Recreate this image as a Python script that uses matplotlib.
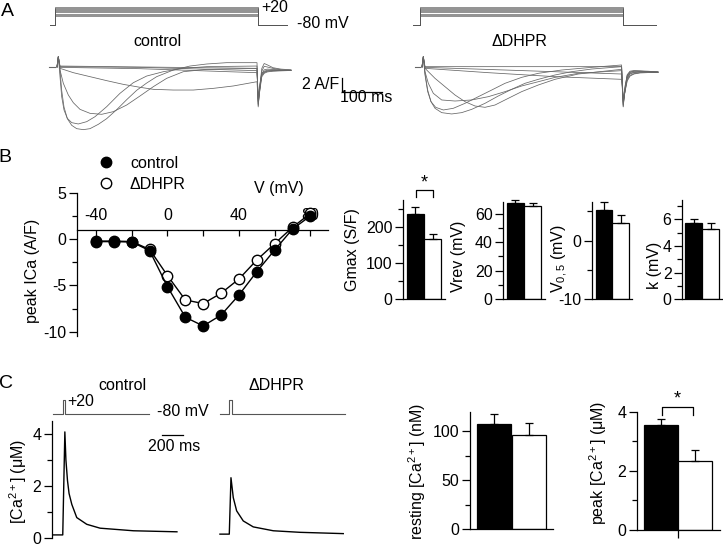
import matplotlib
matplotlib.use('Agg')
import matplotlib.pyplot as plt
from matplotlib.lines import Line2D
from matplotlib.ticker import FixedLocator

# ---------------------------------------------------------------- style
plt.rcParams['font.family'] = ['Liberation Sans', 'DejaVu Sans']
plt.rcParams['font.size'] = 11.5
plt.rcParams['axes.linewidth'] = 0.9
plt.rcParams['axes.unicode_minus'] = False
plt.rcParams['mathtext.fontset'] = 'custom'
plt.rcParams['mathtext.rm'] = 'Liberation Sans'
plt.rcParams['mathtext.it'] = 'Liberation Sans:italic'

# ---------------------------------------------------------------- data
# A: current traces (t in ms from pulse onset, I in A/F)
ctrl_t = [
    [0, 3.3, 7.5, 11.7, 17.5, 25.8, 36.7, 49.2, 65.8, 82.5, 103.3, 124.2, 149.2, 174.2, 199.2, 224.2, 249.2, 290.8, 332.5, 374.2, 424.2, 500],
    [0, 3.3, 7.5, 11.7, 17.5, 25.8, 36.7, 53.3, 74.2, 95, 124.2, 157.5, 190.8, 224.2, 265.8, 315.8, 374.2, 500],
    [0, 3.3, 7.5, 15.8, 28.3, 40.8, 57.5, 82.5, 111.7, 140.8, 174.2, 207.5, 240.8, 274.2, 315.8, 374.2, 500],
    [0, 3.3, 7.5, 40.8, 82.5, 124.2, 165.8, 207.5, 240.8, 290.8, 340.8, 390.8, 440.8, 500],
    [0, 3.3, 7.5, 207.5, 500],
    [0, 3.3, 7.5, 207.5, 500],
    [0, 3.3, 7.5, 500],
]
ctrl_i = [
    [0, 1.48, -0.43, -3.33, -5.71, -7.38, -8.33, -8.81, -8.95, -8.81, -8.19, -7.38, -6.10, -4.67, -3.33, -2.29, -1.38, -0.43, 0.14, 0.43, 0.62, 0.62],
    [0, 1.48, -1.38, -4.24, -6.14, -7.33, -7.95, -8.14, -7.81, -7.1, -5.67, -3.76, -2.24, -1.29, -0.67, -0.19, 0.05, 0.14],
    [0, 1.48, -0.43, -2.33, -4.0, -5.1, -6.05, -6.62, -6.76, -6.38, -5.43, -4.14, -2.81, -1.62, -0.67, -0.33, -0.19],
    [0, 1.48, -0.19, -0.81, -1.38, -1.95, -2.48, -2.9, -3.19, -3.29, -3.29, -3.05, -2.71, -2.1],
    [0, 1.48, 0.05, -0.05, -0.52],
    [0, 1.48, -0.05, -0.24, -0.81],
    [0, 1.48, 0.14, -0.19],
]
ctrl_tail_t = [503, 508, 512, 518, 526, 540, 560, 585]
ctrl_tail_i = [
    [-5.7, -2.2, -0.2, 0.5, 0.3, -0.1, -0.3, -0.4],
    [-5.5, -2.5, -0.6, 0.1, 0.0, -0.2, -0.4, -0.45],
    [-5.3, -2.8, -1.0, -0.4, -0.3, -0.35, -0.45, -0.5],
    [-5.0, -3.0, -1.4, -0.9, -0.7, -0.6, -0.55, -0.5],
    [-4.8, -2.6, -1.2, -0.8, -0.6, -0.55, -0.5, -0.5],
    [-4.6, -2.4, -1.1, -0.7, -0.55, -0.5, -0.5, -0.5],
    [-4.4, -2.2, -0.9, -0.6, -0.45, -0.45, -0.45, -0.45],
]
dhpr_t = [
    [0, 3.3, 7.5, 14.2, 22.5, 32.5, 49.2, 74.2, 99.2, 124.2, 157.5, 190.8, 224.2, 257.5, 290.8, 332.5, 374.2, 424.2, 499],
    [0, 3.3, 7.5, 14.2, 22.5, 34.2, 53.3, 78.3, 107.5, 140.8, 174.2, 207.5, 249.2, 290.8, 349.2, 424.2, 499],
    [0, 3.3, 7.5, 15.8, 28.3, 49.2, 82.5, 124.2, 165.8, 207.5, 249.2, 290.8, 332.5, 390.8, 499],
    [0, 3.3, 7.5, 32.5, 57.5, 82.5, 107.5, 132.5, 157.5, 182.5, 207.5, 249.2, 290.8, 332.5, 390.8, 499],
    [0, 3.3, 7.5, 207.5, 499],
    [0, 3.3, 7.5, 165.8, 332.5, 499],
    [0, 3.3, 7.5, 499],
]
dhpr_i = [
    [0, 1.48, -0.9, -3.29, -4.95, -5.9, -6.52, -6.71, -6.52, -6.05, -5.19, -4.14, -3.19, -2.33, -1.76, -1.14, -0.67, -0.29, 0.05],
    [0, 1.48, -1.14, -3.52, -4.95, -5.76, -6.14, -5.9, -5.19, -4.24, -3.29, -2.33, -1.48, -0.9, -0.43, -0.05, 0.29],
    [0, 1.48, -0.67, -2.33, -3.76, -4.71, -4.86, -4.71, -4.24, -3.52, -2.71, -2.1, -1.48, -0.9, -0.52],
    [0, 1.48, -0.19, -1.62, -2.81, -4.0, -4.95, -5.57, -5.76, -5.43, -4.71, -3.52, -2.57, -1.76, -1.0, -0.33],
    [0, 1.48, -0.05, -0.43, -1.0],
    [0, 1.48, -0.19, -0.81, -1.38, -1.76],
    [0, 1.48, 0.05, 0.05],
]
dhpr_tail_t = [503, 508, 513, 520, 530, 545, 565, 590]
dhpr_tail_i = [
    [-5.7, -3.0, -1.3, -0.8, -0.6, -0.6, -0.65, -0.7],
    [-5.6, -2.8, -1.1, -0.6, -0.5, -0.55, -0.6, -0.7],
    [-5.4, -3.2, -1.6, -1.0, -0.8, -0.7, -0.7, -0.75],
    [-5.2, -3.0, -1.5, -0.9, -0.75, -0.7, -0.7, -0.75],
    [-5.0, -3.3, -1.8, -1.2, -0.95, -0.8, -0.75, -0.8],
    [-4.8, -3.4, -2.0, -1.3, -1.0, -0.85, -0.8, -0.8],
    [-4.6, -2.6, -1.2, -0.7, -0.6, -0.6, -0.65, -0.7],
]
# drawn step levels of the voltage protocol (arbitrary units above holding)
step_levels = [9.3, 10.4, 11.5, 12.6, 13.7, 14.8, 15.9, 17.0, 18.1]

# B: I-V relation
iv_v = [-40, -30, -20, -10, 0, 10, 20, 30, 40, 50, 60, 70, 80]
iv_ctrl = [-0.26, -0.26, -0.3, -1.23, -5.13, -8.44, -9.38, -8.2, -6.03, -3.5, -1.16, 1.11, 2.52]
iv_dhpr = [-0.2, -0.2, -0.25, -1.1, -3.93, -6.57, -6.96, -5.84, -4.3, -2.24, -0.47, 1.3, 2.8]

gmax_mean, gmax_err = [236, 166], [19, 14]
vrev_mean, vrev_err = [67.6, 65.3], [1.9, 1.9]
v05_mean, v05_err = [5.2, 3.07], [1.4, 1.33]
k_mean, k_err = [5.68, 5.3], [0.37, 0.38]

# C: Ca transients (t in ms from pulse onset, [Ca2+] in uM)
ca_ctrl_t = [-102, 0, 20, 30, 45, 60, 86, 133, 228, 355, 672, 1085]
ca_ctrl = [0.1, 0.1, 4.08, 3.0, 2.2, 1.7, 1.28, 0.77, 0.51, 0.36, 0.26, 0.22]
ca_dhpr_t = [-89, 0, 16, 38, 70, 133, 228, 419, 673, 1085]
ca_dhpr = [0.13, 0.13, 2.31, 1.54, 1.03, 0.64, 0.41, 0.26, 0.2, 0.15]

rest_mean, rest_err = [107.1, 96.3], [10.9, 12.5]
peak_mean, peak_err = [3.55, 2.34], [0.22, 0.36]

# ---------------------------------------------------------------- figure
W, H = 723, 545
fig = plt.figure(figsize=(W / 100, H / 100), dpi=100)
TRACE = '#666666'
PROT = '#555555'


def px_axes(l, t, r, b):
    # axes placed by pixel edges (top-left origin)
    return fig.add_axes([l / W, 1 - b / H, (r - l) / W, (b - t) / H])


def px_text(x, y, s, **kw):
    kw.setdefault('ha', 'center')
    kw.setdefault('va', 'center')
    fig.text(x / W, 1 - y / H, s, **kw)


def tick_style(ax, axis='y'):
    ax.tick_params(axis=axis, which='major', length=5.5, width=0.9, pad=2, labelsize=11.5)
    ax.tick_params(axis=axis, which='minor', length=3.5, width=0.9)


# ---------------- A
pr_ctrl = px_axes(37, 0, 400, 30)
pr_dhpr = px_axes(402, 0, 680, 30)
for ax, t0, t1, tend in [(pr_ctrl, -17.5, 502.5, 575), (pr_dhpr, -22.5, 502.5, 585)]:
    ax.set_xlim(-50, 857.5 if ax is pr_ctrl else 645)
    ax.set_ylim(-5, 25)
    ax.axis('off')
    for lev in step_levels:
        ax.plot([t0, -5, -5, t1, t1, tend], [0, 0, lev, lev, 0, 0], color=PROT, lw=0.45)
pr_ctrl.text(510, 18, '+20', ha='left', va='center')
pr_ctrl.text(600, 1, '-80 mV', ha='left', va='center')

tr_ctrl = px_axes(37, 50, 400, 140)
tr_ctrl.set_xlim(-50, 857.5)
tr_ctrl.set_ylim(-10.43, 2.43)
tr_ctrl.axis('off')
for t, i, ti in zip(ctrl_t, ctrl_i, ctrl_tail_i):
    tr_ctrl.plot(t + ctrl_tail_t, i + ti, color=TRACE, lw=0.55)
tr_ctrl.plot([-20, -5], [0, 0], color=TRACE, lw=0.8)
# scale bar
tr_ctrl.plot([712.5, 712.5, 812.5], [-1.57, -3.57, -3.57], color='k', lw=0.9)
tr_ctrl.text(705, -2.43, '2 A/F', ha='right', va='center')
tr_ctrl.text(772.5, -4.35, '100 ms', ha='center', va='center')

tr_dhpr = px_axes(402, 50, 680, 140)
tr_dhpr.set_xlim(-50, 645)
tr_dhpr.set_ylim(-10.43, 2.43)
tr_dhpr.axis('off')
for t, i, ti in zip(dhpr_t, dhpr_i, dhpr_tail_i):
    tr_dhpr.plot(t + dhpr_tail_t, i + ti, color=TRACE, lw=0.55)
tr_dhpr.plot([-17.5, -5], [0, 0], color=TRACE, lw=0.8)

px_text(157, 42, 'control')
px_text(519, 42, 'ΔDHPR')

# ---------------- B: I-V
ax_iv = px_axes(77, 193, 328, 336.3)
ax_iv.set_xlim(-50.6, 89.8)
ax_iv.set_ylim(-10.5, 5)
ax_iv.plot(iv_v, iv_dhpr, color='k', lw=1, marker='o', ms=7.5, mfc='white', mec='k', mew=1, clip_on=False)
ax_iv.plot(iv_v, iv_ctrl, color='k', lw=1, marker='o', ms=7.5, mfc='k', mec='k', mew=1, clip_on=False)
ax_iv.spines['right'].set_visible(False)
ax_iv.spines['bottom'].set_visible(False)
ax_iv.spines['top'].set_position(('data', 1.0))
ax_iv.xaxis.tick_top()
ax_iv.xaxis.set_major_locator(FixedLocator([-40, 0, 40, 80]))
ax_iv.xaxis.set_minor_locator(FixedLocator([-20, 20, 60]))
ax_iv.tick_params(axis='x', which='both', direction='in', width=0.9, pad=5, labelsize=11.5)
ax_iv.tick_params(axis='x', which='major', length=4)
ax_iv.tick_params(axis='x', which='minor', length=4)
ax_iv.yaxis.set_major_locator(FixedLocator([-10, -5, 0, 5]))
ax_iv.yaxis.set_minor_locator(FixedLocator([-7.5, -2.5, 2.5]))
tick_style(ax_iv, 'y')
px_text(33, 271, 'peak ICa (A/F)', rotation=90)
px_text(279, 188, 'V (mV)')

handles = [Line2D([], [], ls='none', marker='o', ms=7.5, mfc='k', mec='k'),
           Line2D([], [], ls='none', marker='o', ms=7.5, mfc='white', mec='k')]
fig.legend(handles, ['control', 'ΔDHPR'], loc='upper left', bbox_to_anchor=(98 / W, 1 - 156 / H),
           frameon=False, handlelength=1.0, handletextpad=1.0, labelspacing=0.35,
           borderpad=0, borderaxespad=0, fontsize=11.5)


def bar_panel(rect, xlim, ylim, means, errs, major, minor, ylabel, lab_xy, xtick=False):
    ax = px_axes(*rect)
    base = ylim[0]
    ax.bar([0, 1], [m - base for m in means], bottom=base, width=1.0,
           color=['k', 'white'], edgecolor='k', linewidth=0.9, zorder=2)
    ax.errorbar([0, 1], means, yerr=[[0, 0], errs], fmt='none', ecolor='k',
                elinewidth=0.9, capsize=3, capthick=0.9, zorder=3, clip_on=False)
    ax.set_xlim(*xlim)
    ax.set_ylim(*ylim)
    ax.spines['top'].set_visible(False)
    ax.spines['right'].set_visible(False)
    ax.yaxis.set_major_locator(FixedLocator(major))
    ax.yaxis.set_minor_locator(FixedLocator(minor))
    tick_style(ax, 'y')
    if xtick:
        ax.set_xticks([0.5])
        ax.set_xticklabels([''])
        ax.tick_params(axis='x', length=5.5, width=0.9)
    else:
        ax.set_xticks([])
    px_text(lab_xy[0], lab_xy[1], ylabel, rotation=90)
    return ax


ax_g = bar_panel((403, 200, 445, 299), (-0.735, 1.735), (0, 275), gmax_mean, gmax_err,
                 [0, 100, 200], [50, 150, 250], 'Gmax (S/F)', (353, 250))
ax_g.plot([0.03, 0.03, 1.03, 1.03], [283, 303, 303, 283], color='k', lw=0.9, clip_on=False)
ax_g.text(0.5, 322, '*', ha='center', va='center', fontsize=13)

bar_panel((503, 201.7, 545, 299), (-0.735, 1.735), (0, 68.3), vrev_mean, vrev_err,
          [0, 20, 40, 60], [10, 30, 50], 'Vrev (mV)', (459, 256))
bar_panel((592, 201.7, 632, 299.3), (-0.72, 1.69), (-10, 6.65), v05_mean, v05_err,
          [-10, 0], [-5, 5], r'V$_{\mathregular{0,5}}$ (mV)', (560, 259))
bar_panel((682, 200, 722, 299.3), (-0.69, 1.66), (0, 7.44), k_mean, k_err,
          [0, 2, 4, 6], [1, 3, 5, 7], 'k (mV)', (655, 265))

# ---------------- C: Ca transients
ca_c = px_axes(51.7, 421.3, 180, 537.5)
ca_c.set_xlim(-105, 1114)
ca_c.set_ylim(0, 4.49)
ca_c.plot(ca_ctrl_t, ca_ctrl, color='k', lw=1)
for s in ['top', 'right', 'bottom']:
    ca_c.spines[s].set_visible(False)
ca_c.set_xticks([])
ca_c.yaxis.set_major_locator(FixedLocator([0, 2, 4]))
ca_c.yaxis.set_minor_locator(FixedLocator([1, 3]))
tick_style(ca_c, 'y')
ca_c.plot([-92, 0, 0, 25, 25, 822], [4.78, 4.78, 5.32, 5.32, 4.78, 4.78], color=PROT, lw=0.8, clip_on=False)
ca_c.plot([942, 1142], [3.96, 3.96], color='k', lw=0.9, clip_on=False)
ca_c.text(1060, 3.5, '200 ms', ha='center', va='center')
ca_c.text(41, 5.27, '+20', ha='left', va='center')
ca_c.text(898, 4.88, '-80 mV', ha='left', va='center')
ca_c.text(569, 5.88, 'control', ha='center', va='center')
px_text(18, 481, r'[Ca$^{\mathregular{2+}}$] (μM)', rotation=90)

ca_d = px_axes(215, 421.3, 350, 537.5)
ca_d.set_xlim(-136, 1149)
ca_d.set_ylim(0, 4.49)
ca_d.axis('off')
ca_d.plot(ca_dhpr_t, ca_dhpr, color='k', lw=1)
ca_d.plot([-89, 0, 0, 25, 25, 1101], [4.78, 4.78, 5.32, 5.32, 4.78, 4.78], color=PROT, lw=0.8, clip_on=False)
ca_d.text(445, 5.88, 'ΔDHPR', ha='center', va='center')

bar_panel((470, 411.7, 553, 529.3), (-0.72, 1.72), (0, 120), rest_mean, rest_err,
          [0, 50, 100], [25, 75], r'resting [Ca$^{\mathregular{2+}}$] (nM)', (417, 471))
ax_p = bar_panel((636.7, 411.7, 720, 530), (-0.72, 1.73), (0, 4), peak_mean, peak_err,
                 [0, 2, 4], [1, 3], r'peak [Ca$^{\mathregular{2+}}$] (μM)', (598, 463), xtick=True)
ax_p.plot([0.01, 0.01, 0.94, 0.94], [3.89, 4.15, 4.15, 3.89], color='k', lw=0.9, clip_on=False)
ax_p.text(0.46, 4.44, '*', ha='center', va='center', fontsize=13)

# panel letters
px_text(7, 11, 'A', fontsize=14)
px_text(5, 158, 'B', fontsize=14)
px_text(6, 384, 'C', fontsize=14)

fig.savefig('out.png', dpi=100)
